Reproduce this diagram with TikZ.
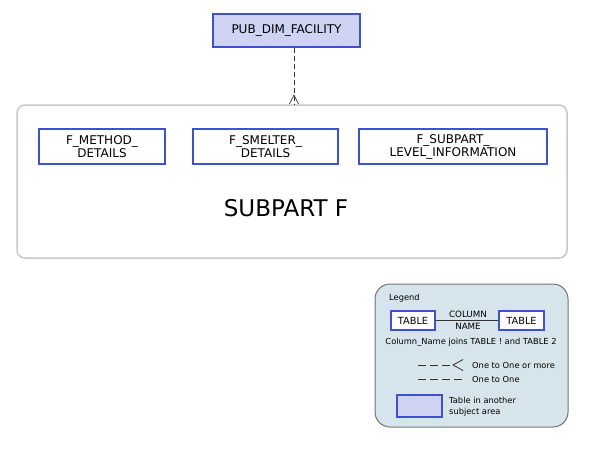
\documentclass[tikz,border=0pt]{standalone}
\usepackage{fontspec}
\setmainfont{DejaVu Sans}
\usetikzlibrary{patterns}
\definecolor{tableblue}{RGB}{62,82,208}
\definecolor{hatchfill}{RGB}{200,205,241}
\definecolor{hatchline}{RGB}{222,226,250}
\definecolor{areagray}{RGB}{200,200,200}
\definecolor{legendfill}{RGB}{214,228,235}
\definecolor{legendline}{RGB}{115,115,115}
\tikzstyle{tablebox}=[rectangle,draw=tableblue,line width=1.6pt,fill=white,align=center,inner sep=0pt,font=\fontsize{12}{13}\selectfont]
\tikzstyle{hatchbox}=[tablebox,fill=none,preaction={fill=hatchfill},pattern=north east lines,pattern color=hatchline]
\tikzstyle{smalltable}=[tablebox,font=\fontsize{9.8}{11}\selectfont]
\tikzstyle{legendtext}=[inner sep=0pt,font=\fontsize{8.3}{10.5}\selectfont]
\tikzstyle{onemany} = [draw,line width=0.9pt,black!80,dash pattern=on 5pt off 3pt]
\tikzstyle{legendlink} = [draw,line width=0.9pt,black!80,dash pattern=on 8pt off 4pt]

\begin{document}
\begin{tikzpicture}[x=1pt,y=-1pt]
\useasboundingbox (0,0) rectangle (591,450);

% subject area
\node[draw=areagray,line width=1.5pt,rounded corners=8pt,minimum width=550,minimum height=153] (area) at (292,181.5) {};
\node[inner sep=0pt,font=\fontsize{23}{25}\selectfont] (areaname) at (286,208) {SUBPART F};

% tables
\node[hatchbox,minimum width=147,minimum height=33] (facility) at (286.5,30.5) {PUB\_DIM\_FACILITY};
\foreach \pos/\name/\w/\label in {{(102,146.5)/method/126/F\_METHOD\_\\DETAILS}, {(265.5,146.5)/smelter/145/F\_SMELTER\_\\DETAILS}, {(453,146.5)/subpart/188/F\_SUBPART\_\\LEVEL\_INFORMATION}}
    \node[tablebox,minimum width=\w,minimum height=35] (\name) at \pos {\label};

% link to the area
\coordinate (link) at (294,104);
\path[onemany] (link |- facility.south) -- (link);
\draw[line width=0.8pt,black!70] (link) ++(-4.5,0) -- ++(4.5,-9) -- ++(4.5,9);

%Legend
\node[draw=legendline,line width=1pt,fill=legendfill,rounded corners=15pt,minimum width=193,minimum height=143] (legend) at (471.5,355.5) {};
\node[legendtext,anchor=west] (legendtitle) at (389,298) {Legend};
\node[smalltable,minimum width=44,minimum height=19] (t1) at (413,320.5) {TABLE};
\node[smalltable,minimum width=45,minimum height=19] (t2) at (521.5,320.5) {TABLE};
\draw[line width=0.8pt,black!80] (t1) -- (t2);
\node[align=center,inner sep=0pt,font=\fontsize{8.7}{11.5}\selectfont] (colname) at (468,320.5) {COLUMN\\NAME};
\node[legendtext] (joins) at (471,342) {Column\_Name joins TABLE ! and TABLE 2};

\coordinate (m1) at (418,365);
\coordinate (m2) at (453,365);
\path[legendlink] (m1) -- (m2);
\draw[line width=0.8pt,black!80] (m2) ++(10,-5.5) -- (m2) -- ++(10,5.5);
\node[legendtext,anchor=west] (manytext) at (472,365) {One to One or more};

\coordinate (o1) at (418,379);
\coordinate (o2) at (463,379);
\path[legendlink] (o1) -- (o2);
\node[legendtext,anchor=west] (onetext) at (472,379) {One to One};

\node[hatchbox,minimum width=45,minimum height=22] (otherarea) at (419.5,406) {};
\node[legendtext,anchor=west,align=left] (othertext) at (449,406.5) {Table in another\\subject area};

\end{tikzpicture}
\end{document}
